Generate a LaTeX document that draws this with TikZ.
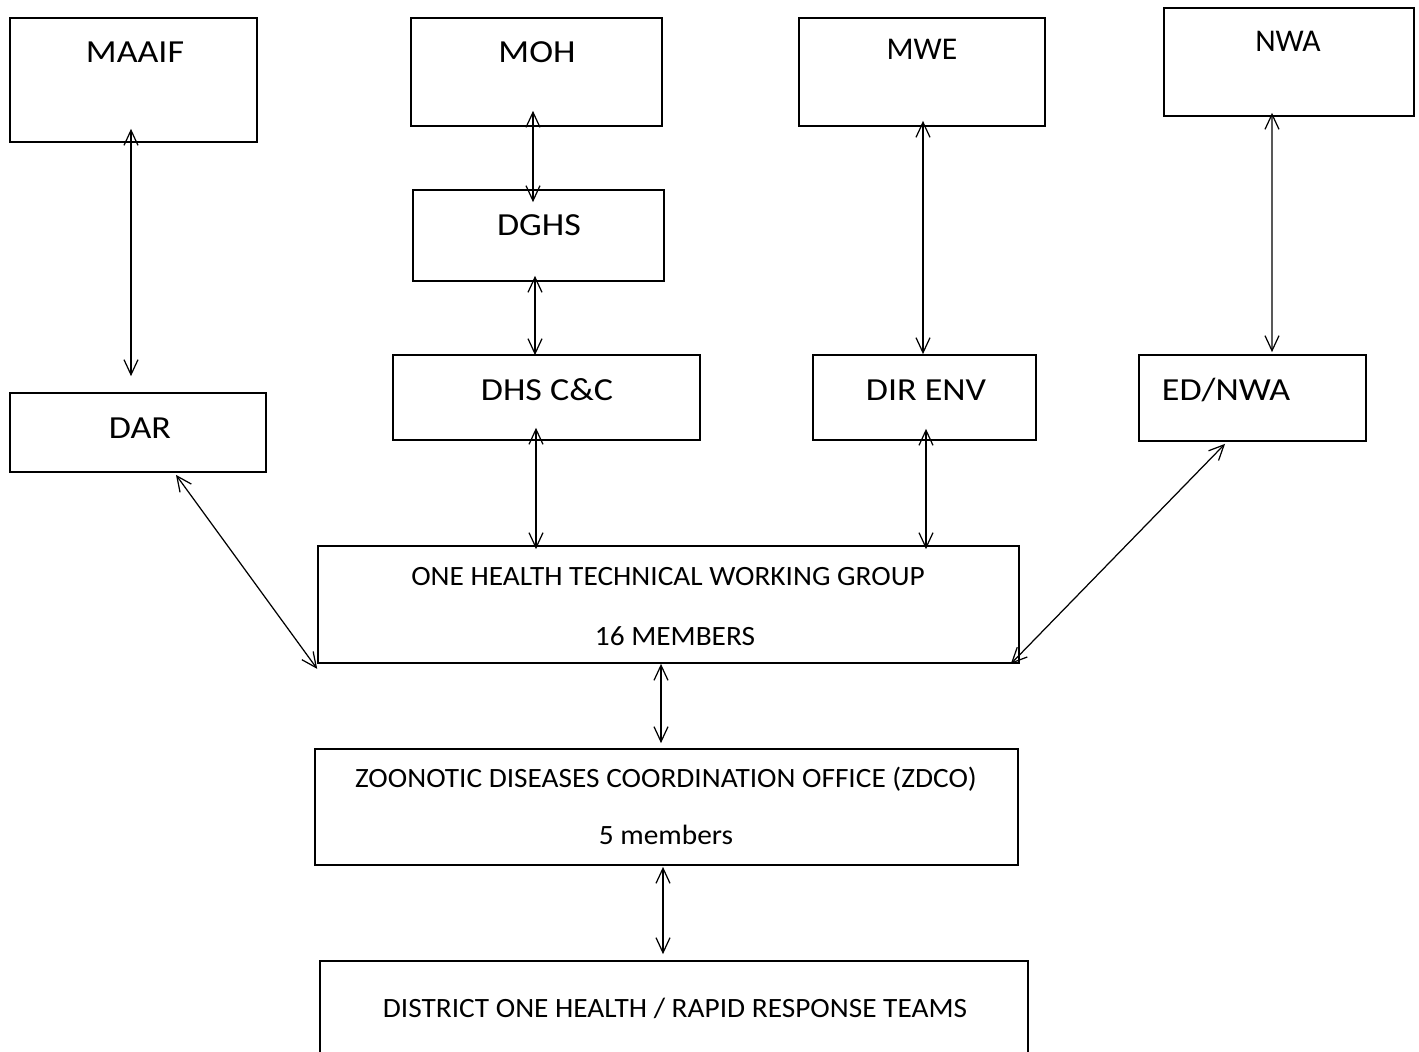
\documentclass[tikz,border=0pt]{standalone}
\usepackage{fontspec}
\setmainfont{Carlito}
\usetikzlibrary{arrows.meta,calc}
\newcommand{\widebig}[1]{\scalebox{1.12}[1]{#1}}
\newcommand{\widemid}[1]{\scalebox{1.05}[1]{#1}}

\begin{document}
\begin{tikzpicture}[x=0.02cm,y=-0.02cm,
  box/.style={draw,line width=1pt,inner sep=0pt},
  big/.style={font=\fontsize{18.3}{22}\selectfont,text height=11.6pt,text depth=0pt,inner sep=0pt},
  head/.style={font=\fontsize{18}{22}\selectfont,text height=11.4pt,text depth=0pt,inner sep=0pt},
  mid/.style={font=\fontsize{15.9}{19}\selectfont,text height=10pt,text depth=0pt,inner sep=0pt},
  link/.style={{Straight Barb[length=3mm,width=2.8mm]}-{Straight Barb[length=3mm,width=2.8mm]},line width=0.7pt}]
\useasboundingbox (0,0) rectangle (1419,1051);

% Ministries
\node[box,minimum width=4.94cm,minimum height=2.48cm] (maaif) at (133.5,80) {};
\node[box,minimum width=5.02cm,minimum height=2.16cm] (moh) at (536.5,72) {};
\node[box,minimum width=4.92cm,minimum height=2.16cm] (mwe) at (922,72) {};
\node[box,minimum width=5.00cm,minimum height=2.16cm] (nwa) at (1289,62) {};
\node[big] (maaif-t) at (135,52.5) {\widebig{MAAIF}};
\node[big] (moh-t) at (537,52.5) {\widebig{MOH}};
\node[head] (mwe-t) at (922,49.5) {MWE};
\node[head] (nwa-t) at (1288,41.5) {NWA};

% Directorates
\node[box,minimum width=5.02cm,minimum height=1.82cm] (dghs) at (538.5,235.5) {};
\node[box,minimum width=6.14cm,minimum height=1.70cm] (dhs) at (546.5,397.5) {};
\node[box,minimum width=5.12cm,minimum height=1.58cm] (dar) at (138,432.5) {};
\node[box,minimum width=4.46cm,minimum height=1.70cm] (direnv) at (924.5,397.5) {};
\node[box,minimum width=4.54cm,minimum height=1.72cm] (ednwa) at (1252.5,398) {};
\node[big] (dghs-t) at (539,225) {\widebig{DGHS}};
\node[big] (dhs-t) at (547,390) {\widebig{DHS C\&C}};
\node[big] (dar-t) at (140,428) {\widebig{DAR}};
\node[big] (direnv-t) at (926,390) {\widebig{DIR ENV}};
\node[big] (ednwa-t) at (1226,390) {\widebig{ED/NWA}};

% Working group, office and teams
\node[box,minimum width=14.02cm,minimum height=2.34cm] (ohtwg) at (668.5,604.5) {};
\node[box,minimum width=14.06cm,minimum height=2.32cm] (zdco) at (666.5,807) {};
\node[box,minimum width=14.16cm,minimum height=1.98cm] (dist) at (674,1010.5) {};
\node[mid] (ohtwg-t) at (668,576.5) {\widemid{ONE HEALTH TECHNICAL WORKING GROUP}};
\node[mid] (ohtwg-n) at (675,637) {\widemid{16 MEMBERS}};
\node[mid] (zdco-t) at (666,779) {\widemid{ZOONOTIC DISEASES COORDINATION OFFICE (ZDCO)}};
\node[mid] (zdco-n) at (666,836) {\widemid{5 members}};
\node[mid] (dist-t) at (675,1009) {\widemid{DISTRICT ONE HEALTH / RAPID RESPONSE TEAMS}};

% Arrows
\draw[link] ($(maaif.south)+(-2.5,-14)$) -- ($(dar.north)+(-7,-16)$);
\draw[link] ($(moh.south)+(-3.5,-16)$) -- ($(dghs.north)+(-5.5,13)$);
\draw[link] ($(dghs.south)+(-3.5,-6)$) -- ($(dhs.north)+(-11.5,1)$);
\draw[link] ($(dhs.south)+(-10.5,-13)$) -- ($(ohtwg.north)+(-132.5,4)$);
\draw[link] ($(mwe.south)+(1,-6)$) -- ($(direnv.north)+(-1.5,0)$);
\draw[link] ($(direnv.south)+(1.5,-12)$) -- ($(ohtwg.north)+(257.5,4)$);
\draw[link] ($(nwa.south)+(-17,-4)$) -- ($(ednwa.north)+(19.5,-2)$);
\draw[link] ($(ednwa.south)+(-27.5,2)$) -- ($(ohtwg.south east)+(-9,0)$);
\draw[link] ($(dar.south)+(38,2)$) -- ($(ohtwg.south west)+(0,5)$);
\draw[link] ($(ohtwg.south)+(-7.5,0)$) -- ($(zdco.north)+(-5.5,-5)$);
\draw[link] ($(zdco.south)+(-3.5,1)$) -- ($(dist.north)+(-11,-6)$);
\end{tikzpicture}
\end{document}
